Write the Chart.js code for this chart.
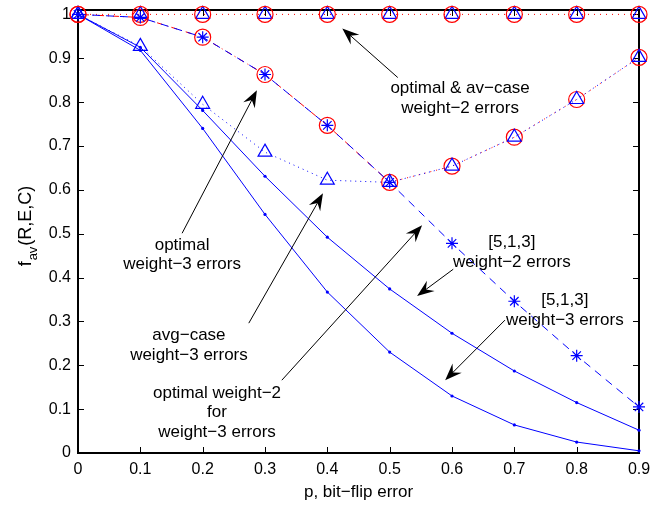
<!DOCTYPE html>
<html>
<head>
<meta charset="utf-8">
<script src="https://cdn.jsdelivr.net/npm/chart.js@4/dist/chart.umd.min.js"></script>
<style>
  body { margin: 0; background: #fff; }
  #wrap { width: 672px; height: 506px; }
</style>
</head>
<body>
<div id="wrap"><canvas id="myChart" width="672" height="506"></canvas></div>
<script>
// values
const pValues = [0, 0.1, 0.2, 0.3, 0.4, 0.5, 0.6, 0.7, 0.8, 0.9];
const xTickLabels = ['0', '0.1', '0.2', '0.3', '0.4', '0.5', '0.6', '0.7', '0.8', '0.9'];
const yTickLabels = ['0', '0.1', '0.2', '0.3', '0.4', '0.5', '0.6', '0.7', '0.8', '0.9', '1'];

const weight2Optimal = [1, 1, 1, 1, 1, 1, 1, 1, 1, 1];
const weight2AvgCase = [1, 1, 1, 1, 1, 1, 1, 1, 1, 1];
const weight3Optimal = [1, 0.993, 0.948, 0.863, 0.747, 0.617, 0.654, 0.72, 0.806, 0.902];
const weight3AvgCase = [1, 0.927, 0.795, 0.686, 0.622, 0.617, 0.654, 0.72, 0.806, 0.902];
const opt2ForWeight3 = [1, 0.993, 0.948, 0.863, 0.747, 0.617, 0.478, 0.346, 0.222, 0.105];
const code513Weight2 = [1, 0.925, 0.781, 0.631, 0.492, 0.374, 0.273, 0.187, 0.115, 0.052];
const code513Weight3 = [1, 0.918, 0.74, 0.544, 0.367, 0.23, 0.13, 0.064, 0.025, 0.005];

// annotation texts, anchored in data units (first line centre, arrow tail, arrow tip)
const notes = [
  { lines: ['optimal & av\u2212case', 'weight\u22122 errors'], x: 0.613, y: 0.831, from: [0.513, 0.856], to: [0.424, 0.968] },
  { lines: ['optimal', 'weight\u22123 errors'], x: 0.167, y: 0.474, from: [0.167, 0.501], to: [0.287, 0.827] },
  { lines: ['avg\u2212case', 'weight\u22123 errors'], x: 0.178, y: 0.268, from: [0.274, 0.296], to: [0.393, 0.592] },
  { lines: ['optimal weight\u22122', 'for', 'weight\u22123 errors'], x: 0.223, y: 0.137, from: [0.327, 0.166], to: [0.552, 0.519] },
  { lines: ['[5,1,3]', 'weight\u22122 errors'], x: 0.696, y: 0.480, from: [0.602, 0.419], to: [0.544, 0.358] },
  { lines: ['[5,1,3]', 'weight\u22123 errors'], x: 0.781, y: 0.347, from: [0.685, 0.303], to: [0.589, 0.166] }
];

const BLUE = '#0000ff';
const RED = '#ff0000';
const FONT = 'Liberation Sans, Arial, Helvetica, sans-serif';

function pts(arr) {
  return pValues.map((p, i) => ({ x: p, y: arr[i] }));
}

const framePlugin = {
  id: 'frame',
  beforeDatasetsDraw(chart) {
    const ctx = chart.ctx;
    const a = chart.chartArea;
    const xs = chart.scales.x, ys = chart.scales.y;
    ctx.save();
    ctx.strokeStyle = '#000';
    ctx.lineWidth = 1;
    ctx.beginPath();
    pValues.forEach(p => {
      const px = Math.round(xs.getPixelForValue(p)) + 0.5;
      ctx.moveTo(px, a.bottom); ctx.lineTo(px, a.bottom - 6);
      ctx.moveTo(px, a.top); ctx.lineTo(px, a.top + 6);
    });
    yTickLabels.forEach((t, i) => {
      const py = Math.round(ys.getPixelForValue(i / 10)) + 0.5;
      ctx.moveTo(a.left, py); ctx.lineTo(a.left + 6, py);
      ctx.moveTo(a.right, py); ctx.lineTo(a.right - 6, py);
    });
    ctx.stroke();
    ctx.lineWidth = 2;
    ctx.strokeRect(a.left, a.top, a.right - a.left, a.bottom - a.top);
    ctx.restore();
  }
};

function arrow(ctx, x1, y1, x2, y2) {
  const ang = Math.atan2(y2 - y1, x2 - x1);
  const len = 17, wid = 6.5;
  const c = Math.cos(ang), s = Math.sin(ang);
  ctx.beginPath();
  ctx.moveTo(x1, y1);
  ctx.lineTo(x2 - c * 10, y2 - s * 10);
  ctx.stroke();
  const bx = x2 - c * len, by = y2 - s * len;
  const ix = x2 - c * (len - 6), iy = y2 - s * (len - 6);
  ctx.beginPath();
  ctx.moveTo(x2, y2);
  ctx.lineTo(bx + s * wid, by - c * wid);
  ctx.lineTo(ix, iy);
  ctx.lineTo(bx - s * wid, by + c * wid);
  ctx.closePath();
  ctx.fill();
}

const notesPlugin = {
  id: 'notes',
  afterDatasetsDraw(chart) {
    const ctx = chart.ctx;
    const xs = chart.scales.x, ys = chart.scales.y;
    const a = chart.chartArea;
    ctx.save();
    ctx.fillStyle = '#000';
    ctx.strokeStyle = '#000';
    ctx.lineWidth = 1;
    ctx.font = '17px ' + FONT;
    ctx.textAlign = 'center';
    ctx.textBaseline = 'middle';
    notes.forEach(n => {
      const cx = xs.getPixelForValue(n.x);
      const cy = ys.getPixelForValue(n.y);
      n.lines.forEach((l, i) => ctx.fillText(l, cx, cy + i * 19.5));
      arrow(ctx, xs.getPixelForValue(n.from[0]), ys.getPixelForValue(n.from[1]),
        xs.getPixelForValue(n.to[0]), ys.getPixelForValue(n.to[1]));
    });

    // axis titles
    ctx.font = '17px ' + FONT;
    ctx.fillText('p, bit\u2212flip error', (a.left + a.right) / 2, 492);
    ctx.translate(26, 226);
    ctx.rotate(-Math.PI / 2);
    ctx.font = '18px ' + FONT;
    const w1 = ctx.measureText('f').width + 1;
    const w3 = ctx.measureText('(R,E,C)').width;
    ctx.font = '13px ' + FONT;
    const w2 = ctx.measureText('av').width + 1;
    let x0 = -(w1 + w2 + w3) / 2;
    ctx.textAlign = 'left';
    ctx.font = '18px ' + FONT;
    ctx.fillText('f', x0, 0);
    ctx.fillText('(R,E,C)', x0 + w1 + w2, 0);
    ctx.font = '13px ' + FONT;
    ctx.fillText('av', x0 + w1, 7);
    ctx.restore();
  }
};

const ctx = document.getElementById('myChart').getContext('2d');
const chart = new Chart(ctx, {
  type: 'line',
  data: {
    datasets: [
      {
        data: pts(weight2Optimal), borderColor: RED, borderWidth: 1, borderDash: [1, 5],
        pointStyle: 'circle', pointRadius: 8, pointBorderColor: RED, pointBackgroundColor: 'rgba(0,0,0,0)', pointBorderWidth: 1.2
      },
      {
        data: pts(weight2AvgCase), showLine: false,
        pointStyle: 'triangle', pointRadius: 8, pointBorderColor: BLUE, pointBackgroundColor: 'rgba(0,0,0,0)', pointBorderWidth: 1.2
      },
      {
        data: pts(weight3Optimal), borderColor: RED, borderWidth: 1, order: 2,
        segment: { borderDash: c => c.p0DataIndex < 5 ? [1, 4, 6, 4] : [1, 5] },
        pointStyle: 'circle', pointRadius: 8, pointBorderColor: RED, pointBackgroundColor: 'rgba(0,0,0,0)', pointBorderWidth: 1.2
      },
      {
        data: pts(weight3AvgCase), borderColor: BLUE, borderWidth: 1, borderDash: [1, 4],
        pointStyle: 'triangle', pointRadius: 8, pointBorderColor: BLUE, pointBackgroundColor: 'rgba(0,0,0,0)', pointBorderWidth: 1.2
      },
      {
        data: pts(opt2ForWeight3), borderColor: BLUE, borderWidth: 1, borderDash: [8, 6], order: -1,
        pointStyle: 'star', pointRadius: 6, pointBorderColor: BLUE, pointBackgroundColor: BLUE, pointBorderWidth: 1.2
      },
      {
        data: pts(code513Weight2), borderColor: BLUE, borderWidth: 1,
        pointStyle: 'circle', pointRadius: 1.6, pointBorderColor: BLUE, pointBackgroundColor: BLUE, pointBorderWidth: 0
      },
      {
        data: pts(code513Weight3), borderColor: BLUE, borderWidth: 1,
        pointStyle: 'circle', pointRadius: 1.6, pointBorderColor: BLUE, pointBackgroundColor: BLUE, pointBorderWidth: 0
      }
    ]
  },
  options: {
    responsive: false,
    animation: false,
    clip: false,
    layout: { padding: { left: 0, right: 33, top: 10, bottom: 0 } },
    plugins: { legend: { display: false }, tooltip: { enabled: false } },
    elements: { line: { tension: 0, fill: false } },
    scales: {
      x: {
        type: 'linear', min: 0, max: 0.9,
        afterFit: s => { s.height = 53; s.paddingLeft = 0; s.paddingRight = 0; },
        grid: { display: false, drawTicks: false },
        border: { display: false },
        ticks: {
          stepSize: 0.1, padding: 7, color: '#000', font: { family: FONT, size: 16 },
          callback: v => xTickLabels[Math.round(v * 10)]
        }
      },
      y: {
        min: 0, max: 1.01,
        afterFit: s => { s.width = 78; s.paddingTop = 0; s.paddingBottom = 0; },
        grid: { display: false, drawTicks: false },
        border: { display: false },
        ticks: {
          stepSize: 0.1, includeBounds: false, padding: 7, color: '#000', font: { family: FONT, size: 16 },
          callback: v => yTickLabels[Math.round(v * 10)]
        }
      }
    }
  },
  plugins: [framePlugin, notesPlugin]
});
</script>
</body>
</html>
